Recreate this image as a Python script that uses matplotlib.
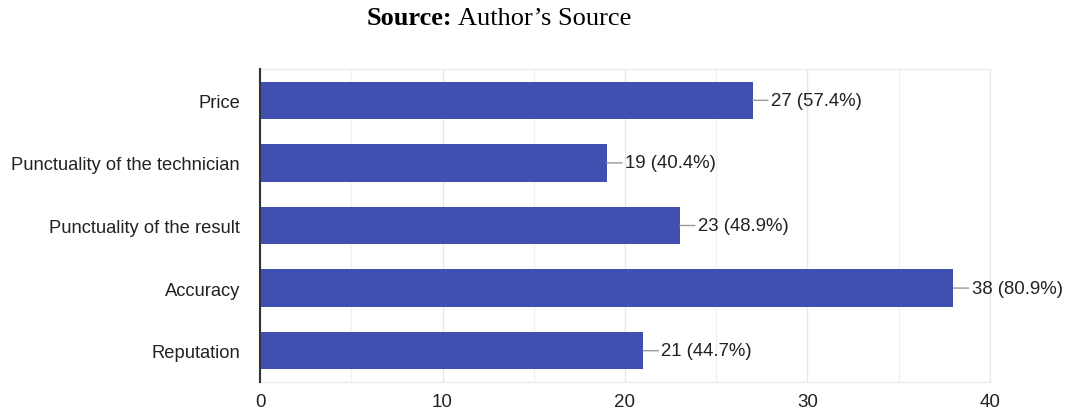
import matplotlib
matplotlib.use("Agg")
import matplotlib.pyplot as plt
from matplotlib.ticker import MultipleLocator

categories = ["Price", "Punctuality of the technician", "Punctuality of the result",
              "Accuracy", "Reputation"]
counts = [27, 19, 23, 38, 21]
percents = [57.4, 40.4, 48.9, 80.9, 44.7]
x_ticks = [0, 10, 20, 30, 40]

bar_color = "#4150B0"
text_color = "#222222"
sans = ["Liberation Sans", "DejaVu Sans"]
serif = ["Liberation Serif", "DejaVu Serif"]

fig = plt.figure(figsize=(10.67, 4.14), dpi=100)
ax = fig.add_axes([0.2437, 0.0749, 0.6841, 0.756])

ypos = list(range(len(categories)))
ax.barh(ypos, counts, height=0.6, color=bar_color, zorder=3)
ax.set_ylim(len(categories) - 0.5, -0.5)
ax.set_xlim(0, 40)

ax.set_yticks(ypos)
ax.set_yticklabels(categories, fontsize=13.2, color=text_color, family=sans)
ax.set_xticks(x_ticks)
ax.set_xticklabels([str(t) for t in x_ticks], fontsize=13.5, color=text_color, family=sans)
ax.xaxis.set_minor_locator(MultipleLocator(5))
ax.tick_params(axis="y", length=0, pad=14.5)
ax.tick_params(axis="x", which="both", length=0, pad=8)

ax.grid(axis="x", which="major", color="#E6E6E6", lw=1, zorder=0)
ax.grid(axis="x", which="minor", color="#F0F0F0", lw=1, zorder=0)

for side in ("top", "right", "bottom"):
    ax.spines[side].set_color("#EBEBEB")
    ax.spines[side].set_linewidth(1)
ax.spines["left"].set_color("#333333")
ax.spines["left"].set_linewidth(1.5)
ax.spines["left"].set_zorder(4)

for i, (c, p) in enumerate(zip(counts, percents)):
    ax.annotate(f"{c} ({p}%)", xy=(c, i), xytext=(13, 0), textcoords="offset points",
                ha="left", va="center", fontsize=13.4, color=text_color, family=sans,
                arrowprops=dict(arrowstyle="-", color="#9A9A9A", lw=1,
                                shrinkA=0, shrinkB=0))

# Source line: bold lead-in followed by regular text
t1 = fig.text(0.344, 0.955, "Source:", fontsize=19, fontweight="bold",
              family=serif, ha="left", va="center", color="black")
fig.canvas.draw()
bb = t1.get_window_extent(renderer=fig.canvas.get_renderer())
x_next = fig.transFigure.inverted().transform((bb.x1 + 5, 0))[0]
fig.text(x_next, 0.955, "Author\u2019s Source", fontsize=19, family=serif,
         ha="left", va="center", color="black")

fig.savefig("out.png", dpi=100)
